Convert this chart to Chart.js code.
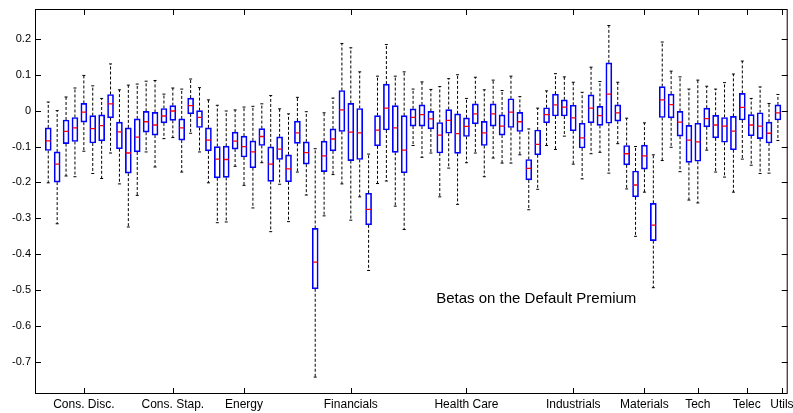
<!DOCTYPE html>
<html>
<head>
<meta charset="utf-8">
<script src="https://cdn.jsdelivr.net/npm/chart.js@4.4.1/dist/chart.umd.min.js"></script>
<style>
  html, body { margin: 0; padding: 0; background: #fff; }
  #wrap { width: 793px; height: 413px; }
</style>
</head>
<body>
<div id="wrap"><canvas id="betaChart" width="793" height="413"></canvas></div>
<script>
// sector labels and where their ticks sit (box index units)
const sectorNames = ['Cons. Disc.', 'Cons. Stap.', 'Energy', 'Financials', 'Health Care',
    'Industrials', 'Materials', 'Tech', 'Telec', 'Utils'];
const sectorTicks = [5, 15, 23, 35, 48, 60, 68, 74, 79.5, 83.45];
const yTicks = [0.2, 0.1, 0, -0.1, -0.2, -0.3, -0.4, -0.5, -0.6, -0.7];

// box statistics, one entry per stock (83 boxes)
const whiskerHi = [
    0.024, 0.000, 0.038, 0.063, 0.098, 0.069, 0.034, 0.130, 0.058, 0.071,
    0.074, 0.082, 0.084, 0.046, 0.063, 0.060, 0.088, 0.064, 0.030, 0.015,
    -0.001, 0.002, 0.010, 0.012, 0.019, 0.042, 0.005, -0.009, 0.037, -0.003,
    -0.106, -0.006, 0.035, 0.187, 0.175, 0.108, -0.121, 0.096, 0.184, 0.096,
    0.108, 0.060, 0.080, 0.059, 0.067, 0.089, 0.100, 0.034, 0.093, 0.058,
    0.085, 0.056, 0.096, 0.039, -0.051, 0.007, 0.055, 0.103, 0.094, 0.079,
    0.051, 0.121, 0.081, 0.237, 0.079, -0.021, -0.100, -0.034, -0.123, 0.191,
    0.110, 0.094, 0.060, 0.085, 0.068, 0.060, 0.078, 0.102, 0.138, 0.034,
    0.066, 0.020, 0.045
];
const upperQ = [
    -0.048, -0.115, -0.026, -0.019, 0.020, -0.014, -0.012, 0.045, -0.032, -0.048,
    -0.023, -0.002, -0.005, 0.006, 0.014, -0.023, 0.035, 0.000, -0.048, -0.100,
    -0.099, -0.060, -0.071, -0.084, -0.050, -0.101, -0.073, -0.123, -0.029, -0.087,
    -0.328, -0.085, -0.051, 0.056, 0.020, 0.006, -0.230, -0.014, 0.074, 0.014,
    -0.014, 0.005, 0.016, -0.002, -0.033, 0.003, -0.009, -0.020, 0.019, -0.030,
    0.019, -0.012, 0.033, -0.005, -0.136, -0.054, 0.008, 0.046, 0.030, 0.015,
    -0.035, 0.044, 0.012, 0.133, 0.016, -0.097, -0.168, -0.096, -0.258, 0.067,
    0.046, -0.002, -0.041, -0.035, 0.007, -0.013, -0.019, -0.016, 0.048, -0.011,
    -0.006, -0.032, 0.016
];
const medians = [
    -0.084, -0.149, -0.058, -0.048, -0.004, -0.050, -0.042, 0.019, -0.059, -0.118,
    -0.074, -0.031, -0.040, -0.015, -0.001, -0.048, 0.014, -0.019, -0.082, -0.135,
    -0.136, -0.085, -0.100, -0.115, -0.072, -0.149, -0.107, -0.162, -0.062, -0.117,
    -0.422, -0.126, -0.079, 0.002, -0.060, -0.062, -0.275, -0.054, 0.007, -0.048,
    -0.110, -0.019, -0.011, -0.023, -0.068, -0.027, -0.064, -0.044, -0.009, -0.062,
    -0.009, -0.043, -0.004, -0.031, -0.161, -0.094, -0.011, 0.016, 0.010, -0.020,
    -0.076, 0.007, -0.014, 0.046, -0.006, -0.120, -0.207, -0.126, -0.319, 0.030,
    0.017, -0.032, -0.082, -0.087, -0.022, -0.040, -0.043, -0.057, 0.009, -0.040,
    -0.043, -0.063, -0.006
];
const lowerQ = [
    -0.111, -0.199, -0.092, -0.086, -0.032, -0.090, -0.084, -0.020, -0.106, -0.174,
    -0.115, -0.060, -0.068, -0.034, -0.027, -0.082, -0.009, -0.047, -0.112, -0.187,
    -0.186, -0.107, -0.129, -0.159, -0.097, -0.197, -0.136, -0.198, -0.091, -0.149,
    -0.496, -0.170, -0.112, -0.058, -0.139, -0.136, -0.318, -0.098, -0.054, -0.116,
    -0.173, -0.043, -0.043, -0.051, -0.118, -0.063, -0.119, -0.072, -0.037, -0.097,
    -0.043, -0.068, -0.047, -0.058, -0.193, -0.123, -0.034, -0.015, -0.015, -0.056,
    -0.104, -0.034, -0.041, -0.035, -0.029, -0.151, -0.240, -0.163, -0.362, -0.019,
    -0.020, -0.071, -0.144, -0.141, -0.045, -0.076, -0.088, -0.109, -0.026, -0.070,
    -0.078, -0.090, -0.026
];
const whiskerLo = [
    -0.201, -0.315, -0.182, -0.184, -0.113, -0.175, -0.189, -0.118, -0.204, -0.324,
    -0.236, -0.115, -0.157, -0.078, -0.075, -0.171, -0.063, -0.115, -0.201, -0.312,
    -0.310, -0.155, -0.208, -0.271, -0.145, -0.337, -0.205, -0.309, -0.171, -0.235,
    -0.742, -0.293, -0.178, -0.204, -0.305, -0.240, -0.445, -0.203, -0.196, -0.266,
    -0.331, -0.097, -0.130, -0.118, -0.240, -0.160, -0.261, -0.145, -0.118, -0.184,
    -0.132, -0.146, -0.146, -0.123, -0.276, -0.219, -0.097, -0.108, -0.071, -0.149,
    -0.190, -0.120, -0.116, -0.174, -0.092, -0.218, -0.350, -0.227, -0.493, -0.139,
    -0.102, -0.170, -0.249, -0.257, -0.110, -0.171, -0.185, -0.227, -0.135, -0.152,
    -0.175, -0.174, -0.083
];

const FONT = '"Liberation Sans", Arial, Helvetica, sans-serif';

// whiskers: two dashed segments per box, broken with nulls
const whiskerPts = [];
const capPts = [];
medians.forEach((m, i) => {
    const x = i + 1;
    whiskerPts.push({ x: x, y: upperQ[i] }, { x: x, y: whiskerHi[i] }, { x: x, y: null });
    whiskerPts.push({ x: x, y: lowerQ[i] }, { x: x, y: whiskerLo[i] }, { x: x, y: null });
    capPts.push({ x: x, y: whiskerHi[i] }, { x: x, y: whiskerLo[i] });
});

// frame, inward tick marks and the text inside the axes
const matlabFrame = {
    id: 'matlabFrame',
    afterDatasetsDraw(chart) {
        const { ctx, chartArea: a, scales } = chart;
        const xs = scales.x, ys = scales.y;
        ctx.save();
        ctx.strokeStyle = '#000';
        ctx.lineWidth = 1;
        ctx.setLineDash([]);
        ctx.strokeRect(a.left + 0.5, a.top + 0.5, a.right - a.left - 1, a.bottom - a.top - 1);
        ctx.beginPath();
        ys.ticks.forEach(t => {
            const py = Math.round(ys.getPixelForValue(t.value)) + 0.5;
            ctx.moveTo(a.left, py); ctx.lineTo(a.left + 6, py);
            ctx.moveTo(a.right, py); ctx.lineTo(a.right - 6, py);
        });
        xs.ticks.forEach(t => {
            const px = Math.round(xs.getPixelForValue(t.value)) + 0.5;
            ctx.moveTo(px, a.top); ctx.lineTo(px, a.top + 6);
            ctx.moveTo(px, a.bottom); ctx.lineTo(px, a.bottom - 6);
        });
        ctx.stroke();
        ctx.fillStyle = '#000';
        ctx.font = '15px ' + FONT;
        ctx.textBaseline = 'middle';
        ctx.textAlign = 'left';
        ctx.fillText('Betas on the Default Premium', xs.getPixelForValue(44.6), ys.getPixelForValue(-0.524));
        ctx.restore();
    }
};

const ctx = document.getElementById('betaChart').getContext('2d');
new Chart(ctx, {
    type: 'bar',
    data: {
        datasets: [
            {
                type: 'scatter',
                label: 'median',
                data: medians.map((m, i) => ({ x: i + 1, y: m })),
                pointStyle: 'line',
                radius: 2.5,
                borderColor: '#ff0000',
                borderWidth: 1.3,
                order: 0
            },
            {
                type: 'bar',
                label: 'box',
                data: medians.map((m, i) => ({ x: i + 1, y: [lowerQ[i], upperQ[i]] })),
                backgroundColor: 'rgba(0,0,0,0)',
                borderColor: '#0000ff',
                borderWidth: 1,
                borderSkipped: false,
                barThickness: 6,
                order: 1
            },
            {
                type: 'scatter',
                label: 'caps',
                data: capPts,
                pointStyle: 'line',
                radius: 1.5,
                borderColor: '#000',
                borderWidth: 1,
                order: 2
            },
            {
                type: 'line',
                label: 'whisker',
                data: whiskerPts,
                borderColor: '#000',
                borderWidth: 1,
                borderDash: [3, 2],
                pointRadius: 0,
                spanGaps: false,
                fill: false,
                order: 3
            }
        ]
    },
    options: {
        responsive: false,
        animation: false,
        layout: { padding: { top: 9, right: 3, left: 0, bottom: 0 } },
        plugins: {
            legend: { display: false },
            tooltip: { enabled: false },
            title: { display: false }
        },
        scales: {
            x: {
                type: 'linear',
                min: -0.49,
                max: 84.1,
                offset: false,
                grid: { display: false, drawTicks: false },
                border: { display: false },
                afterBuildTicks: function (scale) {
                    scale.ticks = sectorTicks.map(v => ({ value: v }));
                },
                afterFit: function (scale) {
                    scale.height = 19;
                    scale.paddingLeft = 0;
                    scale.paddingRight = 0;
                },
                ticks: {
                    autoSkip: false,
                    maxRotation: 0,
                    padding: 3,
                    color: '#000',
                    font: { family: FONT, size: 12 },
                    callback: function (value, index) { return sectorNames[index]; }
                }
            },
            y: {
                type: 'linear',
                min: -0.789,
                max: 0.283,
                grid: { display: false, drawTicks: false },
                border: { display: false },
                afterBuildTicks: function (scale) {
                    scale.ticks = yTicks.map(v => ({ value: v }));
                },
                afterFit: function (scale) {
                    scale.width = 35;
                    scale.paddingTop = 0;
                    scale.paddingBottom = 0;
                },
                ticks: {
                    padding: 4,
                    color: '#000',
                    font: { family: FONT, size: 11 },
                    callback: function (value) { return String(Math.round(value * 10) / 10); }
                }
            }
        }
    },
    plugins: [matlabFrame]
});
</script>
</body>
</html>
